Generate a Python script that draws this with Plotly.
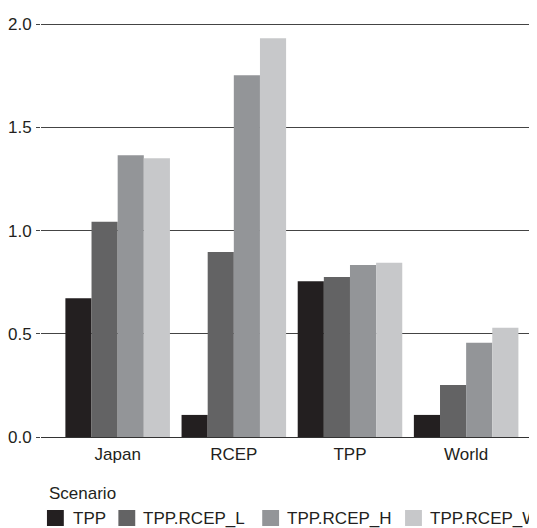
import plotly.graph_objects as go

regions = ["Japan", "RCEP", "TPP", "World"]
scenarios = ["TPP", "TPP.RCEP_L", "TPP.RCEP_H", "TPP.RCEP_W"]
tpp = [0.673, 0.107, 0.755, 0.107]
tpp_rcep_l = [1.043, 0.897, 0.775, 0.252]
tpp_rcep_h = [1.366, 1.753, 0.833, 0.457]
tpp_rcep_w = [1.351, 1.932, 0.844, 0.529]
y_ticks = [0.0, 0.5, 1.0, 1.5, 2.0]
y_tick_labels = ["0.0", "0.5", "1.0", "1.5", "2.0"]

series = [tpp, tpp_rcep_l, tpp_rcep_h, tpp_rcep_w]
colors = ["#231f20", "#636364", "#939598", "#c7c8ca"]
FONT = "Liberation Sans, Arial, Helvetica, sans-serif"

fig = go.Figure()
for name, vals, col in zip(scenarios, series, colors):
    fig.add_trace(go.Bar(name=name, x=regions, y=vals, marker=dict(color=col, line=dict(width=0)),
                         showlegend=False))

# figure is drawn with the page's 8px body margin; layout values below are in page pixels
OFF = 8
W, H = 529, 520
ml, mr, mt, mb = 29, 0, 6, 91
pw, ph = W - ml - mr, H - mt - mb

def px_x(x):
    return (x - OFF - ml) / pw

def px_y(y):
    return (H - mb - (y - OFF)) / ph

legend_swatch_x = [43, 115, 260, 404]
legend_text_x = [67, 138, 283, 427]
legend_title_y = 493
legend_row_y = 518
sw = 16
shapes = []
annotations = [dict(text="Scenario", x=px_x(43), y=px_y(legend_title_y), xref="paper", yref="paper",
                    xanchor="left", yanchor="middle", showarrow=False,
                    font=dict(family=FONT, size=17, color="#231f20"))]
for name, col, sx, tx in zip(scenarios, colors, legend_swatch_x, legend_text_x):
    shapes.append(dict(type="rect", xref="paper", yref="paper",
                       x0=px_x(sx), x1=px_x(sx + sw + 1),
                       y0=px_y(legend_row_y - sw / 2), y1=px_y(legend_row_y + sw / 2),
                       fillcolor=col, line=dict(width=0)))
    annotations.append(dict(text=name, x=px_x(tx), y=px_y(legend_row_y), xref="paper", yref="paper",
                            xanchor="left", yanchor="middle", showarrow=False,
                            font=dict(family=FONT, size=17, color="#231f20")))

fig.update_layout(
    width=W, height=H,
    margin=dict(l=ml, r=mr, t=mt, b=mb, pad=0),
    paper_bgcolor="white", plot_bgcolor="white",
    barmode="group", bargap=0.1, bargroupgap=0,
    font=dict(family=FONT, size=17, color="#231f20"),
    shapes=shapes, annotations=annotations,
    xaxis=dict(range=[-0.66, 3.61], showgrid=False, ticks="", showline=False,
               zeroline=False, ticklabelstandoff=5,
               tickfont=dict(size=17, color="#231f20"), fixedrange=True),
    yaxis=dict(range=[0, 2.05], tickvals=y_ticks, ticktext=y_tick_labels,
               showgrid=True, gridcolor="#444444", gridwidth=1.3,
               zeroline=True, zerolinecolor="#333333", zerolinewidth=1.2,
               ticks="outside", ticklen=4, tickcolor="#444444", tickwidth=1.2,
               ticklabelstandoff=1,
               showline=False, tickfont=dict(size=17, color="#231f20")),
)

fig.write_html("out.html")
